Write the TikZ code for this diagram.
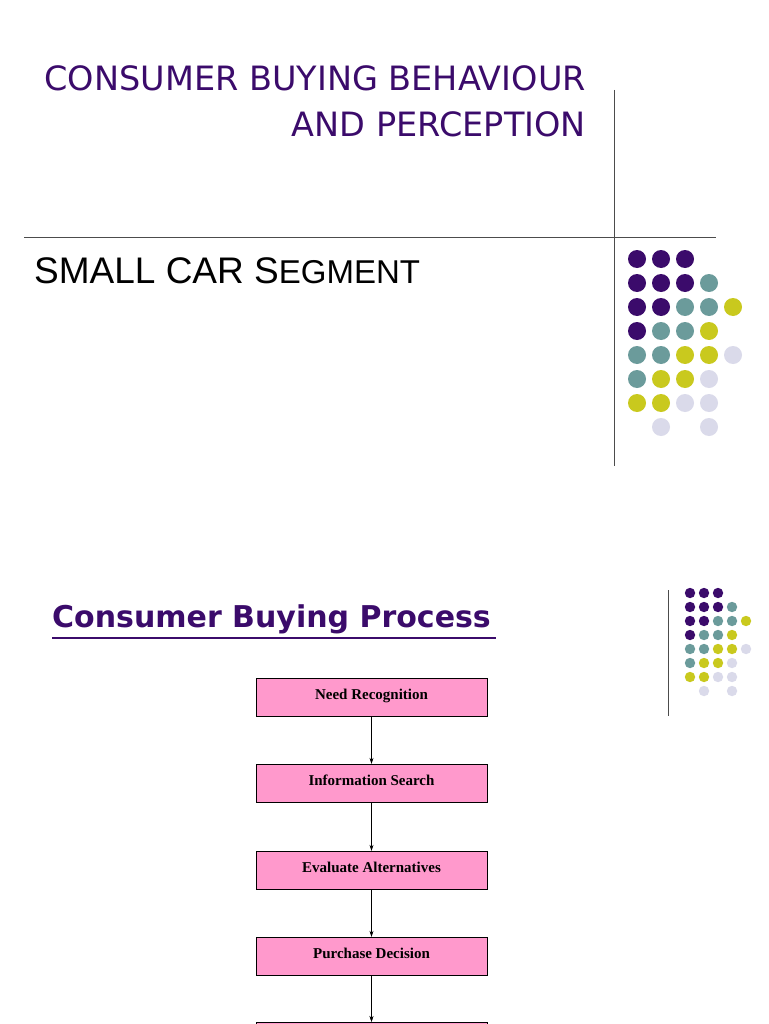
\documentclass[tikz,border=0pt]{standalone}
\usepackage{fontspec}
\setmainfont{Liberation Serif}
\newfontfamily\titlefont{DejaVu Sans}
\newfontfamily\arialfont{Liberation Sans}
\usetikzlibrary{arrows.meta}
\definecolor{pp}{HTML}{3B0B6B}
\definecolor{tl}{HTML}{6B9B9B}
\definecolor{yg}{HTML}{C9C91E}
\definecolor{lv}{HTML}{DADAEA}
\definecolor{pk}{HTML}{FF99CC}
\tikzset{
 stepbox/.style={draw=black,fill=pk,minimum width=231pt,minimum height=38pt,inner sep=0pt,font=\bfseries\fontsize{15}{17}\selectfont},
 flow/.style={-{Stealth[length=6pt,width=4pt]},black}
}
\newcommand{\dotgrid}[4]{%
 \foreach \row [count=\r from 0] in {{pp,pp,pp},{pp,pp,pp,tl},{pp,pp,tl,tl,yg},{pp,tl,tl,yg},{tl,tl,yg,yg,lv},{tl,yg,yg,lv},{yg,yg,lv,lv}}{
  \foreach \c [count=\k from 0] in \row {\fill[\c] (#1+\k*#3,#2+\r*#3) circle (#4);}}
 \fill[lv] (#1+1*#3,#2+7*#3) circle (#4);
 \fill[lv] (#1+3*#3,#2+7*#3) circle (#4);}
\begin{document}
\begin{tikzpicture}[x=1pt,y=-1pt]
\useasboundingbox[fill=white] (0,0) rectangle (768,1024);
\node[anchor=north east,align=right,text=pp,font=\titlefont\fontsize{33.5}{46}\selectfont,inner sep=0pt] (title) at (586,65) {CONSUMER BUYING BEHAVIOUR\\AND PERCEPTION};
\draw[black!70,line width=1pt] (614,90) -- (614,466);
\draw[black!70,line width=1pt] (24,237) -- (716,237);
\node[anchor=west,inner sep=0pt,font=\arialfont\fontsize{37}{40}\selectfont] (sub) at (34,271) {SMALL CAR S{\fontsize{33}{36}\selectfont EGMENT}};
\dotgrid{637}{259}{24}{9}
\draw[black!70,line width=1pt] (668,590) -- (668,716);
\dotgrid{690}{593}{14}{5.2}
\node[anchor=west,inner sep=0pt,text=pp,font=\titlefont\bfseries\fontsize{30}{34}\selectfont] (proc) at (52,619) {Consumer Buying Process};
\draw[pp,line width=2pt] (52,638) -- (496,638);
\node[stepbox] (s1) at (371.5,697) {\raisebox{6pt}{Need Recognition}};
\node[stepbox] (s2) at (371.5,783) {\raisebox{6pt}{Information Search}};
\node[stepbox] (s3) at (371.5,870) {\raisebox{6pt}{Evaluate Alternatives}};
\node[stepbox] (s4) at (371.5,956) {\raisebox{6pt}{Purchase Decision}};
\node[stepbox,anchor=north] (s5) at (371.5,1022) {};
\draw[flow] (s1) -- (s2);
\draw[flow] (s2) -- (s3);
\draw[flow] (s3) -- (s4);
\draw[flow] (s4) -- (s5);
\end{tikzpicture}
\end{document}
